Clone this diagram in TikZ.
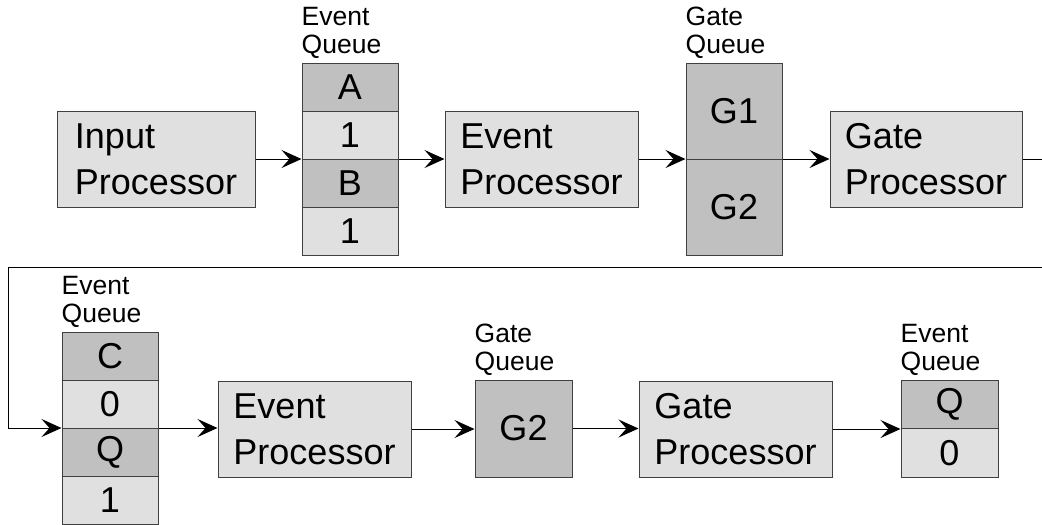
\documentclass[tikz,border=0pt]{standalone}
\usepackage{fontspec}
\setmainfont{Liberation Sans}
\usetikzlibrary{arrows.meta,fit}
\definecolor{cellLight}{HTML}{E0E0E0}
\definecolor{cellDark}{HTML}{C0C0C0}
\definecolor{edge}{HTML}{404040}
\newcommand\bigtext{\fontsize{36}{46}\selectfont}
\newcommand\smalltext{\fontsize{26.5}{28}\selectfont}

\begin{document}
\begin{tikzpicture}[x=1pt,y=-1pt,
  proc/.style={draw=edge, fill=cellLight, line width=1pt, minimum height=96pt,
    align=left, inner sep=0pt, font=\bigtext},
  cell/.style={draw=edge, line width=1pt, minimum width=96pt, minimum height=48pt,
    inner sep=0pt, font=\bigtext},
  lite/.style={cell, fill=cellLight},
  dark/.style={cell, fill=cellDark},
  queue/.style={inner sep=0pt, outer sep=0pt, draw=none},
  qlabel/.style={anchor=south west, inner sep=0pt, align=left, font=\smalltext},
  flow/.style={line width=1pt, -{Stealth[length=20pt,width=18pt,inset=8pt]}},
]
\useasboundingbox (0,0) rectangle (1042,525);

% ---- first stage ----
\node[proc, minimum width=198pt] (ip) at (156,159) {Input\\Processor};

\node[dark] (q1a) at (350,87)  {A};
\node[lite] (q1b) at (350,135) {1};
\node[dark] (q1c) at (350,183) {B};
\node[lite] (q1d) at (350,231) {1};
\node[queue, fit=(q1a)(q1d)] (q1) {};
\node[qlabel] (q1lab) at ([yshift=4pt]q1.north west) {Event\\Queue};

\node[proc, minimum width=193pt] (ep1) at (541.5,159) {Event\\Processor};

\node[dark, minimum height=96pt] (gq1a) at (734,111) {G1};
\node[dark, minimum height=96pt] (gq1b) at (734,207) {G2};
\node[queue, fit=(gq1a)(gq1b)] (gq1) {};
\node[qlabel] (gq1lab) at ([yshift=4pt]gq1.north west) {Gate\\Queue};

\node[proc, minimum width=192pt] (gp1) at (926,159) {Gate\\Processor};

% ---- second stage ----
\node[dark] (q2a) at (110,356) {C};
\node[lite] (q2b) at (110,404) {0};
\node[dark] (q2c) at (110,452) {Q};
\node[lite] (q2d) at (110,500) {1};
\node[queue, fit=(q2a)(q2d)] (q2) {};
\node[qlabel] (q2lab) at ([yshift=4pt]q2.north west) {Event\\Queue};

\node[proc, minimum width=193pt] (ep2) at (314.5,429) {Event\\Processor};

\node[dark, minimum width=97pt, minimum height=97pt] (gq2) at (523.5,428.5) {G2};
\node[qlabel] (gq2lab) at ([yshift=4pt]gq2.north west) {Gate\\Queue};

\node[proc, minimum width=193pt] (gp2) at (735.5,429) {Gate\\Processor};

\node[dark, minimum width=97pt, minimum height=48.5pt] (q3a) at (949.5,404.25) {Q};
\node[lite, minimum width=97pt, minimum height=48.5pt] (q3b) at (949.5,452.75) {0};
\node[queue, fit=(q3a)(q3b)] (q3) {};
\node[qlabel] (q3lab) at ([yshift=4pt]q3.north west) {Event\\Queue};

% ---- connectors ----
\draw[flow] (ip.east)  -- (ip.east  -| q1.west);
\draw[flow] (q1.east)  -- (q1.east  -| ep1.west);
\draw[flow] (ep1.east) -- (ep1.east -| gq1.west);
\draw[flow] (gq1.east) -- (gq1.east -| gp1.west);

\begin{scope}
  \clip (0,0) rectangle (1042,525);
  \coordinate (outR) at (1070,159);
  \coordinate (backL) at (8,267);
  \draw[flow] (gp1.east) -- (outR) -- (outR |- backL) -- (backL) |- (q2.west);
\end{scope}

\draw[flow] (q2.east)  -- (q2.east  -| ep2.west);
\draw[flow] (ep2.east) -- (ep2.east -| gq2.west);
\draw[flow] (gq2.east) -- (gq2.east -| gp2.west);
\draw[flow] (gp2.east) -- (gp2.east -| q3.west);
\end{tikzpicture}
\end{document}
